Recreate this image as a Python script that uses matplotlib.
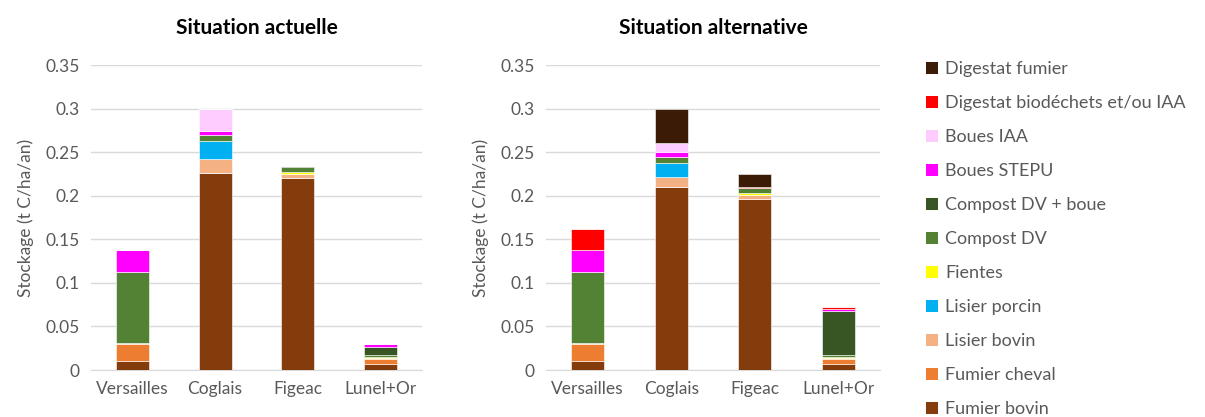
import matplotlib.pyplot as plt
from matplotlib.patches import Patch
import numpy as np

plt.rcParams['font.family'] = ['Lato', 'DejaVu Sans']

sites = ["Versailles", "Coglais", "Figeac", "Lunel+Or"]

# stack order, bottom to top
sources = ["Fumier bovin", "Fumier cheval", "Lisier bovin", "Lisier porcin",
           "Fientes", "Compost DV", "Compost DV + boue", "Boues STEPU",
           "Boues IAA", "Digestat biodéchets et/ou IAA", "Digestat fumier"]
colors = ["#843C0C", "#ED7D31", "#F4B183", "#00B0F0", "#FFFF00", "#548235",
          "#375623", "#FF00FF", "#FFCCFF", "#FF0000", "#3B1B06"]

# t C/ha/an, one row per source, columns = sites
actuelle = [
    [0.0103, 0.2265, 0.2203, 0.0073],   # Fumier bovin
    [0.0192, 0.0, 0.0, 0.0057],         # Fumier cheval
    [0.0019, 0.0157, 0.0046, 0.0012],   # Lisier bovin
    [0.0, 0.0206, 0.0, 0.0],            # Lisier porcin
    [0.0, 0.0, 0.0023, 0.0011],         # Fientes
    [0.0815, 0.0073, 0.0058, 0.0019],   # Compost DV
    [0.0, 0.0, 0.0010, 0.0096],         # Compost DV + boue
    [0.0245, 0.0042, 0.0, 0.0030],      # Boues STEPU
    [0.0, 0.0249, 0.0, 0.0],            # Boues IAA
    [0.0, 0.0, 0.0, 0.0],               # Digestat biodéchets
    [0.0, 0.0, 0.0, 0.0],               # Digestat fumier
]
alternative = [
    [0.0103, 0.2096, 0.1959, 0.0073],
    [0.0192, 0.0, 0.0, 0.0057],
    [0.0019, 0.0119, 0.0049, 0.0012],
    [0.0, 0.0161, 0.0, 0.0],
    [0.0, 0.0, 0.0023, 0.0011],
    [0.0815, 0.0069, 0.0054, 0.0019],
    [0.0, 0.0, 0.0, 0.0505],
    [0.0244, 0.0053, 0.0, 0.0023],
    [0.0, 0.0107, 0.0, 0.0],
    [0.0241, 0.0, 0.0019, 0.0023],
    [0.0, 0.0394, 0.0150, 0.0],
]

fig = plt.figure(figsize=(12.05, 4.17), dpi=100)
ax1 = fig.add_axes([0.0755, 0.1127, 0.2747, 0.7314])
ax2 = fig.add_axes([0.4531, 0.1127, 0.2772, 0.7314])

txt = "#595959"
x = np.arange(len(sites))
for ax, data, title in [(ax1, actuelle, "Situation actuelle"),
                        (ax2, alternative, "Situation alternative")]:
    bottom = np.zeros(len(sites))
    for vals, col in zip(data, colors):
        vals = np.array(vals)
        ax.bar(x, vals, 0.4, bottom=bottom, color=col,
               edgecolor="white", linewidth=0.4, zorder=3)
        bottom += vals
    ax.set_xlim(-0.5, 3.5)
    ax.set_ylim(0, 0.35)
    ax.set_yticks(np.arange(0, 0.351, 0.05))
    ax.set_yticklabels(["0", "0.05", "0.1", "0.15", "0.2", "0.25", "0.3", "0.35"])
    ax.set_xticks(x)
    ax.set_xticklabels(sites)
    ax.tick_params(length=0, labelsize=12.5, colors=txt, pad=8)
    ax.grid(axis="y", color="#D9D9D9", linewidth=1, zorder=0)
    for s in ["top", "right", "left"]:
        ax.spines[s].set_visible(False)
    ax.spines["bottom"].set_color("#D9D9D9")
    ax.set_ylabel("Stockage (t C/ha/an)", fontsize=12.5, color=txt, labelpad=8)
    ax.set_title(title, fontsize=15, fontweight="bold", color="black", pad=22)

handles = [Patch(facecolor=c, label=l) for l, c in zip(sources, colors)][::-1]
leg = fig.legend(handles=handles, loc="upper left", bbox_to_anchor=(0.755, 0.893),
                 frameon=False, fontsize=13, handlelength=0.65, handleheight=0.65,
                 handletextpad=0.4, labelspacing=1.0)
for t in leg.get_texts():
    t.set_color(txt)

fig.savefig("out.png", dpi=100)
